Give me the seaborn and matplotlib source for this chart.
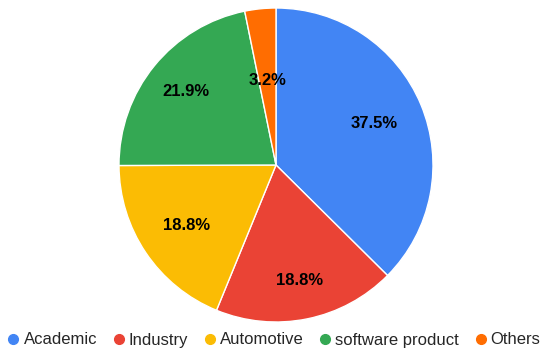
import matplotlib
matplotlib.use("Agg")
import matplotlib.pyplot as plt
import seaborn as sns
import numpy as np
from matplotlib.lines import Line2D

sns.set_theme(style="white")
plt.rcParams['font.family'] = ['Liberation Sans', 'DejaVu Sans']

categories = ["Academic", "Industry", "Automotive", "software product", "Others"]
values = [37.5, 18.8, 18.8, 21.9, 3.2]
colors = ["#4285F4", "#EA4335", "#FBBC04", "#34A853", "#FF6D01"]

fig = plt.figure(figsize=(5.49, 3.5), dpi=100)
cx, cy, r = 276, 350 - 165, 157
ax = fig.add_axes([(cx - r) / 549, (cy - r) / 350, 2 * r / 549, 2 * r / 350])

wedges, _ = ax.pie(values, colors=colors, startangle=90, counterclock=False,
                   radius=1, wedgeprops=dict(edgecolor="white", linewidth=1))
ax.set_xlim(-1, 1)
ax.set_ylim(-1, 1)
ax.axis("off")

label_dist = [0.68, 0.75, 0.69, 0.74, 0.54]
for w, v, d in zip(wedges, values, label_dist):
    ang = np.deg2rad((w.theta1 + w.theta2) / 2)
    ax.text(d * np.cos(ang), d * np.sin(ang), f"{v:.1f}%", ha="center", va="center",
            fontsize=12, fontweight="bold", color="black")

handles = [Line2D([0], [0], marker="o", linestyle="", markersize=7,
                  markerfacecolor=c, markeredgecolor=c) for c in colors]
fig.legend(handles, categories, loc="center", bbox_to_anchor=(0.5, 10 / 350),
           ncol=5, frameon=False, fontsize=12, handletextpad=0.3,
           columnspacing=1.0, handlelength=0.6, borderpad=0, borderaxespad=0)

fig.savefig("out.png", dpi=100)
